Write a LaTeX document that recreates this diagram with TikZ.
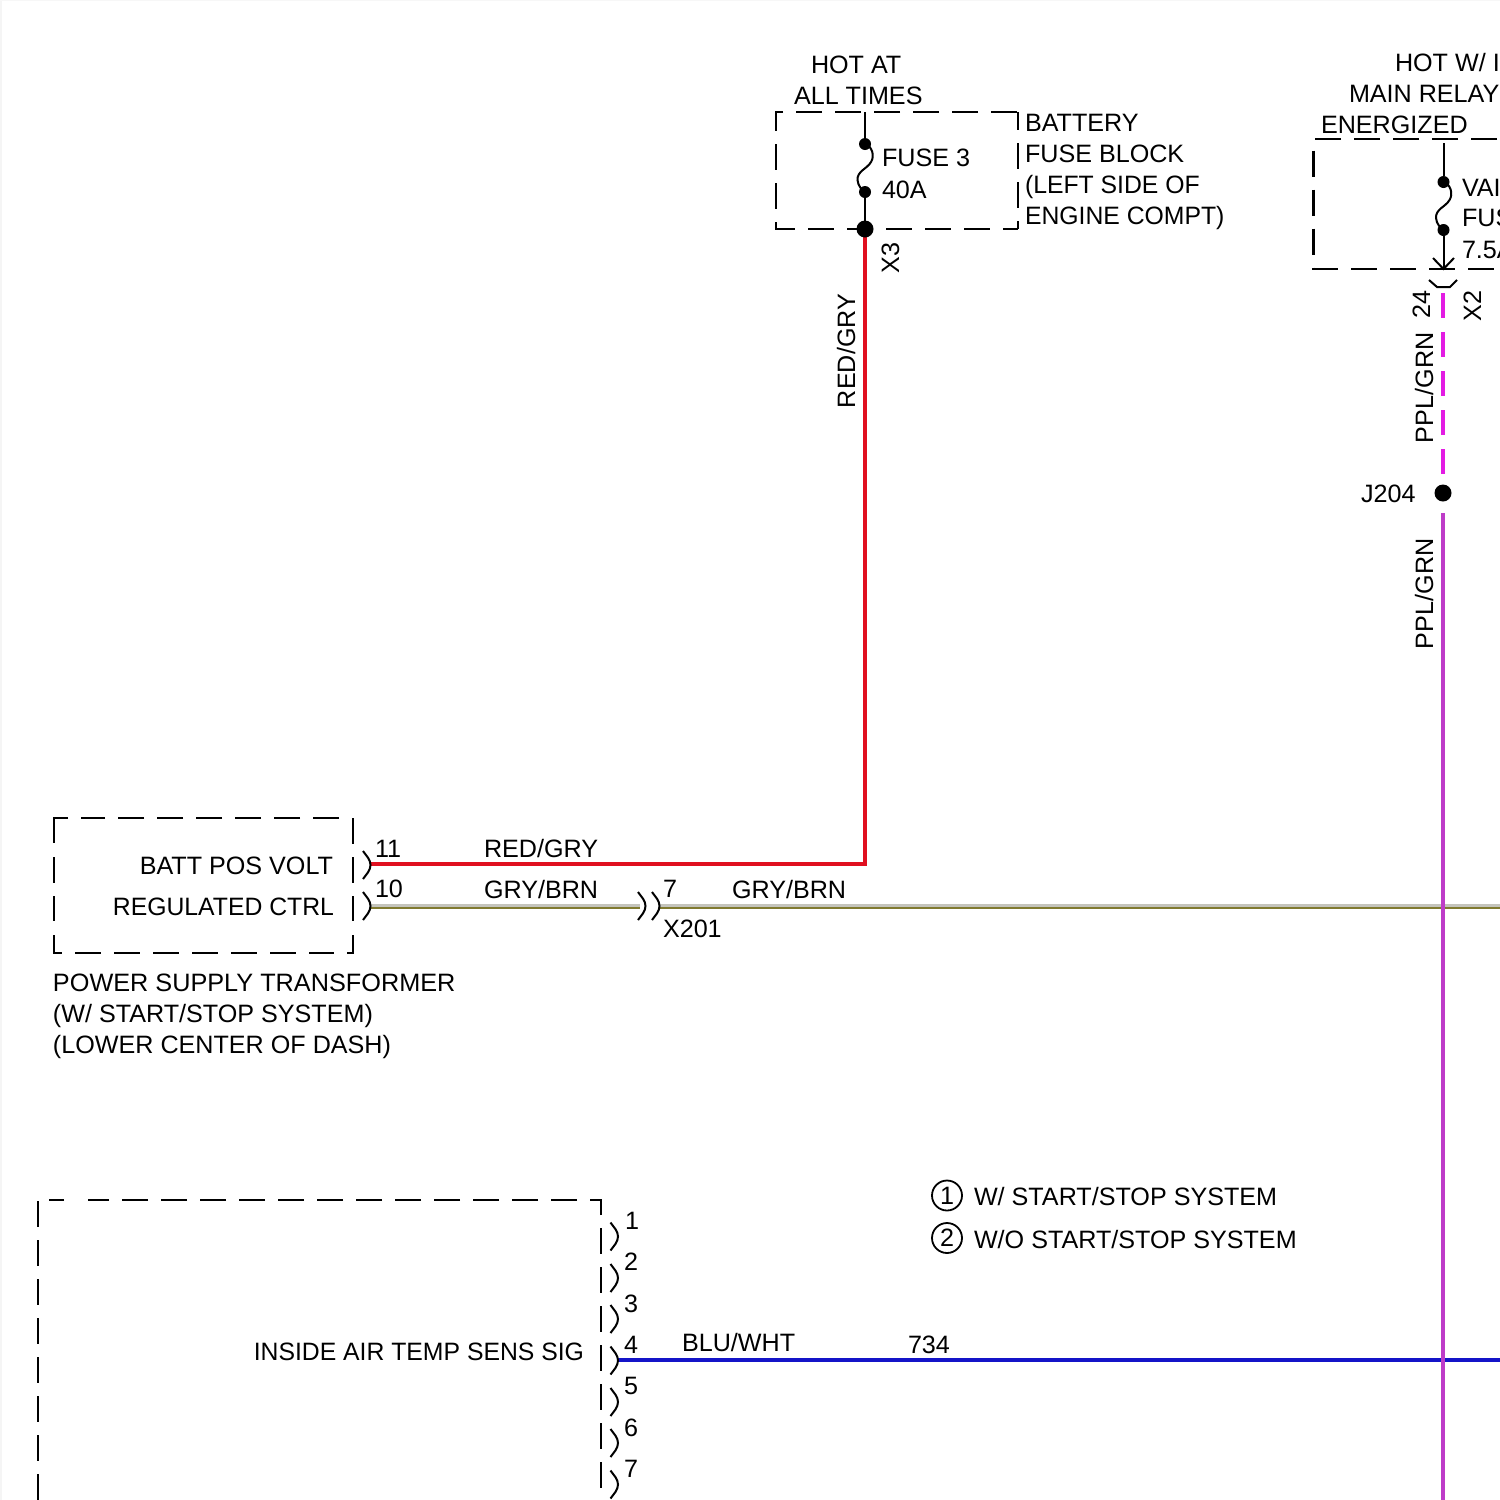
\documentclass[tikz,border=0pt]{standalone}
\usepackage{fontspec}
\setmainfont{Liberation Sans}
\definecolor{wred}{HTML}{E01020}
\definecolor{wpur}{HTML}{BE3CC8}
\definecolor{wmag}{HTML}{E31BE3}
\definecolor{wblu}{HTML}{1414C8}
\definecolor{wgry}{HTML}{C4C4BC}
\definecolor{wbrn}{HTML}{807A30}
\tikzset{
  lbl/.style={anchor=base west,inner sep=0pt,outer sep=0pt,font=\fontsize{12.57}{15}\selectfont,text=black},
  vlbl/.style={lbl,rotate=90},
  dbox/.style={line width=1.05pt,draw=black,dash pattern=on 13pt off 6.5pt,line join=miter},
  dcorner/.style={line width=1.05pt,draw=black,line join=miter},
  ink/.style={line width=1pt,draw=black},
  jdot/.style={circle,fill=black,inner sep=0pt,outer sep=0pt},
  conn/.style={line width=1pt,draw=black},
  circlbl/.style={circle,draw=black,line width=0.9pt,minimum size=15pt,inner sep=0pt,font=\fontsize{12.57}{15}\selectfont},
}
\newcommand{\brk}[2]{\draw[conn,rounded corners=2pt] (#1-7.5,#2-14) -- (#1,#2-4) -- (#1,#2+4) -- (#1-7.5,#2+14);}
\begin{document}
\begin{tikzpicture}[x=0.5pt,y=-0.5pt]
\useasboundingbox (0,0) rectangle (1500,1500);
\clip (0,0) rectangle (1500,1500);
\fill[white] (0,0) rectangle (1500,1500);
\fill[black!4] (0,0) rectangle (2,1500);
\fill[black!3] (0,0) rectangle (1500,1);
% dashed box: fuse 3
\draw[dbox] (1017,112) -- (776,112) -- (776,229) -- (1018,229);
\draw[dbox,dash phase=4pt] (1018,112) -- (1018,229);
% dashed box: relay fuse
\draw[dbox] (1536,139) -- (1313.5,139) -- (1313.5,269) -- (1540,269);
% dashed box: power supply transformer
\draw[dbox] (339,818) -- (81,818);
\draw[dcorner] (68,818) -- (54,818) -- (54,843);
\draw[dbox] (54,857) -- (54,921);
\draw[dcorner] (54,935) -- (54,953) -- (62,953);
\draw[dbox] (75,953) -- (334,953);
\draw[dcorner] (347,953) -- (353,953) -- (353,935);
\draw[dbox] (353,818) -- (353,921);
% dashed box: lower module
\draw[dbox] (601,1215) -- (601,1200) -- (88,1200);
\draw[dcorner] (64,1200) -- (49,1200);
\draw[dbox] (38,1201) -- (38,1540);
\draw[dbox] (601,1228) -- (601,1540);
% wires
\coordinate (p11) at (370,864);
\coordinate (p3) at (864.5,229);
\draw[line width=2pt,draw=wred] (p11) -| (p3);
\coordinate (p10) at (370,906);
\coordinate (x201a) at (640,906);
\coordinate (x201b) at (660,906);
\coordinate (p7e) at (1500,906);
\draw[line width=1.5pt,draw=wgry] ([yshift=0.25pt]p10) -- ([yshift=0.25pt]x201a);
\draw[line width=1pt,draw=wbrn] ([yshift=-1pt]p10) -- ([yshift=-1pt]x201a);
\draw[line width=1.5pt,draw=wgry] ([yshift=0.25pt]x201b) -- ([yshift=0.25pt]p7e);
\draw[line width=1pt,draw=wbrn] ([yshift=-1pt]x201b) -- ([yshift=-1pt]p7e);
\coordinate (p4) at (618,1360);
\coordinate (p4e) at (1500,1360);
\draw[line width=1.8pt,draw=wblu] (p4) -- (p4e);
\node[jdot,minimum size=8.5pt] (j204) at (1443,493) {};
\coordinate (x2b) at (1443,293);
\coordinate (j204a) at (1443,474);
\coordinate (j204b) at (1443,513);
\coordinate (wbot) at (1443,1500);
\draw[line width=2pt,draw=wmag,dash pattern=on 12.5pt off 7pt] (x2b) -- (j204a);
\draw[line width=2.1pt,draw=wpur] (j204b) -- (wbot);
% fuse 3
\coordinate (f3top) at (865,112);
\node[jdot,minimum size=6pt] (f3a) at (865,144) {};
\node[jdot,minimum size=6pt] (f3b) at (865,192) {};
\node[jdot,minimum size=8.5pt] (f3c) at (865,229) {};
\draw[ink] (f3top) -- (f3a);
\draw[ink] (f3b) -- (f3c);
\draw[ink] (f3a.center) .. controls (872,146) and (875,156) .. (871,162) .. controls (867,169) and (857,171) .. (857.5,180) .. controls (858,186) and (862,190) .. (f3b.center);
% relay fuse
\node[jdot,minimum size=6pt] (f2a) at (1443.5,182) {};
\node[jdot,minimum size=6pt] (f2b) at (1443.5,230) {};
\coordinate (f2top) at (1443.5,143);
\coordinate (f2bot) at (1443.5,269);
\coordinate (f2l) at (1433,258);
\coordinate (f2r) at (1454,258);
\draw[ink] (f2top) -- (f2a);
\draw[ink] (f2b) -- (f2bot);
\draw[ink] (f2a.center) .. controls (1450.5,184) and (1453.5,194) .. (1449.5,200) .. controls (1445.5,207) and (1435.5,209) .. (1436,218) .. controls (1436.5,224) and (1440.5,228) .. (f2b.center);
\draw[conn] (f2l) -- (f2bot) -- (f2r);
\draw[conn] (1429,280) -- (1437,287) -- (1450,287) -- (1457,280);
% connectors
\brk{370.5}{865}
\brk{370.5}{906}
\brk{645.5}{906}
\brk{659.5}{906}
\brk{618}{1236.5}
\brk{618}{1278}
\brk{618}{1319}
\brk{618}{1360.5}
\brk{618}{1402}
\brk{618}{1443}
\brk{618}{1484.5}
% labels
\node[lbl] (t1) at (811,73) {HOT AT};
\node[lbl] (t2) at (794,104) {ALL TIMES};
\node[lbl] (t3) at (882,166) {FUSE 3};
\node[lbl] (t4) at (882,198) {40A};
\node[lbl] (t5) at (1025,131) {BATTERY};
\node[lbl] (t6) at (1025,162) {FUSE BLOCK};
\node[lbl] (t7) at (1025,193) {\scalebox{0.985}[1]{(LEFT SIDE OF}};
\node[lbl] (t8) at (1025,224) {\scalebox{0.985}[1]{ENGINE COMPT)}};
\node[vlbl] (t9) at (899,273) {X3};
\node[vlbl] (t10) at (855,408) {RED/GRY};
\node[lbl] (t11) at (1395,71) {HOT W/ I};
\node[lbl] (t12) at (1349,102) {MAIN RELAY};
\node[lbl] (t13) at (1321,133) {ENERGIZED};
\node[lbl] (t14) at (1462,196) {VAI};
\node[lbl] (t15) at (1462,226) {FUS};
\node[lbl] (t16) at (1462,258) {7.5A};
\node[vlbl] (t17) at (1430,318) {24};
\node[vlbl] (t18) at (1481,321) {X2};
\node[vlbl] (t19) at (1433,443) {PPL/GRN};
\node[vlbl] (t20) at (1433,649) {PPL/GRN};
\node[lbl] (t21) at (1361,502) {J204};
\node[lbl] (t22) at (375,857) {11};
\node[lbl] (t23) at (375,897) {10};
\node[lbl] (t24) at (484,857) {RED/GRY};
\node[lbl] (t25) at (484,898) {GRY/BRN};
\node[lbl] (t26) at (663,897) {7};
\node[lbl] (t27) at (732,898) {GRY/BRN};
\node[lbl] (t28) at (663,937) {X201};
\node[lbl,anchor=base east] (t29) at (333,874) {BATT POS VOLT};
\node[lbl,anchor=base east] (t30) at (334,915) {\scalebox{0.985}[1]{REGULATED CTRL}};
\node[lbl] (t31) at (53,991) {\scalebox{1.005}[1]{POWER SUPPLY TRANSFORMER}};
\node[lbl] (t32) at (53,1022) {(W/ START/STOP SYSTEM)};
\node[lbl] (t33) at (53,1053) {(LOWER CENTER OF DASH)};
\node[lbl,anchor=base east] (t34) at (584,1360) {\scalebox{0.985}[1]{INSIDE AIR TEMP SENS SIG}};
\node[lbl] (t35) at (682,1351) {BLU/WHT};
\node[lbl] (t36) at (908,1353) {734};
\node[lbl] (t37) at (625,1229) {1};
\node[lbl] (t38) at (624,1270) {2};
\node[lbl] (t39) at (624,1312) {3};
\node[lbl] (t40) at (624,1353) {4};
\node[lbl] (t41) at (624,1394) {5};
\node[lbl] (t42) at (624,1436) {6};
\node[lbl] (t43) at (624,1477) {7};
\node[circlbl] (c1) at (947,1195.5) {1};
\node[circlbl] (c2) at (947,1238) {2};
\node[lbl] (t44) at (974,1205) {W/ START/STOP SYSTEM};
\node[lbl] (t45) at (974,1248) {W/O START/STOP SYSTEM};
\end{tikzpicture}
\end{document}
